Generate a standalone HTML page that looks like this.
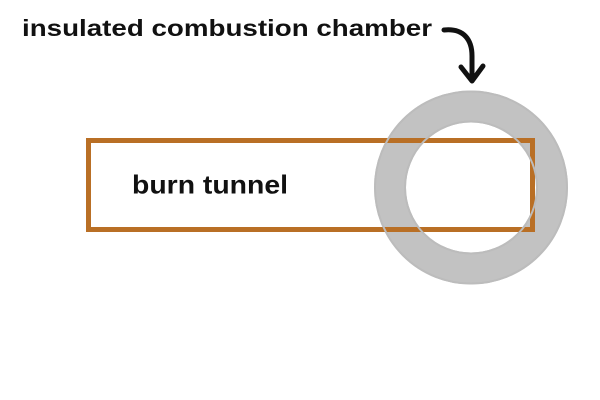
<!DOCTYPE html>
<html><head><meta charset="utf-8"><style>
html,body{margin:0;padding:0;background:#fff;}
svg{display:block;}
</style></head><body>
<svg width="600" height="400" viewBox="0 0 600 400" xmlns="http://www.w3.org/2000/svg">
<rect width="600" height="400" fill="#fff"/>
<circle cx="471" cy="187.5" r="81" fill="none" stroke="#c2c2c2" stroke-width="32"/>
<rect x="88.5" y="140.5" width="444" height="89" fill="none" stroke="#b96f25" stroke-width="5"/>
<circle cx="471" cy="187.5" r="96" fill="none" stroke="#bcbcbc" stroke-width="2"/>
<circle cx="471" cy="187.5" r="66" fill="none" stroke="#bcbcbc" stroke-width="2"/>
<text x="22" y="36" font-family="Liberation Sans, sans-serif" font-weight="bold" font-size="23" fill="#111" textLength="410" lengthAdjust="spacingAndGlyphs">insulated combustion chamber</text>
<text x="132" y="193.5" font-family="Liberation Sans, sans-serif" font-weight="bold" font-size="26" fill="#111" textLength="156" lengthAdjust="spacingAndGlyphs">burn tunnel</text>
<path d="M444,30 C464,28 472,40 472,56 L472,80" fill="none" stroke="#111" stroke-width="5" stroke-linecap="round"/>
<path d="M461,67 L472,81 L483,66" fill="none" stroke="#111" stroke-width="5" stroke-linecap="round" stroke-linejoin="round"/>
</svg>
</body></html>
